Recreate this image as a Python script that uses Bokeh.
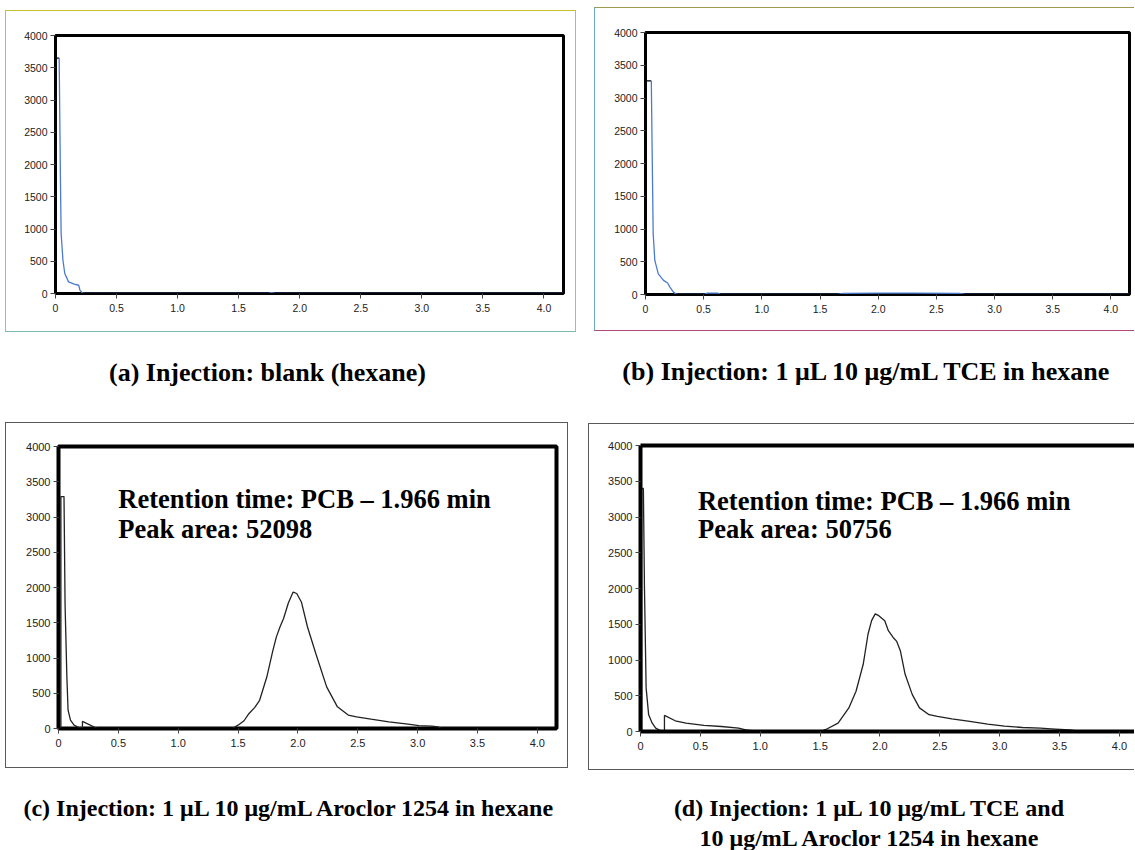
from bokeh.plotting import figure
from bokeh.models import Range1d, FixedTicker, Label, LinearAxis, Spacer
from bokeh.layouts import row, column
from bokeh.embed import file_html
from bokeh.resources import INLINE

# ---------------- data ----------------
x_ticks = [0, 0.5, 1.0, 1.5, 2.0, 2.5, 3.0, 3.5, 4.0]
x_tick_labels = ["0", "0.5", "1.0", "1.5", "2.0", "2.5", "3.0", "3.5", "4.0"]
y_ticks = [0, 500, 1000, 1500, 2000, 2500, 3000, 3500, 4000]
y_tick_labels = ["0", "500", "1000", "1500", "2000", "2500", "3000", "3500", "4000"]

# (a) blank (hexane)
a_time = [0.0, 0.0, 0.03, 0.04, 0.046, 0.061, 0.076, 0.107, 0.153, 0.19, 0.20, 0.22, 0.24,
          1.74, 1.77, 1.80, 4.16]
a_signal = [0, 3650, 3650, 1850, 930, 515, 310, 180, 145, 128, 52, 10, 0,
            0, 12, 0, 0]

# (b) TCE in hexane
b_time = [0.005, 0.005, 0.05, 0.057, 0.066, 0.08, 0.11, 0.155, 0.19, 0.21, 0.24, 0.26, 0.28,
          0.50, 0.53, 0.62, 0.65, 1.65, 1.70, 2.0, 2.3, 2.7, 2.75, 4.16]
b_signal = [0, 3260, 3260, 2200, 930, 520, 315, 215, 175, 112, 36, 10, 0,
            0, 20, 20, 0, 0, 18, 22, 20, 18, 0, 0]

# (c) Aroclor 1254 in hexane
c_time = [0.02, 0.02, 0.046, 0.055, 0.07, 0.08, 0.10, 0.13, 0.17, 0.20,
          0.20, 0.325, 1.45, 1.50, 1.55, 1.59, 1.64, 1.68, 1.74, 1.79,
          1.82, 1.85, 1.88, 1.92, 1.96, 1.99, 2.03, 2.08, 2.15, 2.24,
          2.33, 2.42, 2.49, 2.61, 2.76, 2.92, 3.01, 3.12, 3.17, 3.20, 4.16]
c_signal = [0, 3290, 3290, 1750, 730, 260, 120, 47, 14, 0,
            100, 0, 0, 47, 110, 210, 300, 400, 730, 1100,
            1300, 1440, 1560, 1780, 1935, 1915, 1790, 1440, 1060, 590,
            307, 190, 165, 132, 94, 61, 42, 33, 24, 0, 0]

# (d) TCE + Aroclor 1254 in hexane
d_time = [0.01, 0.01, 0.024, 0.033, 0.047, 0.068, 0.098, 0.127, 0.17, 0.19,
          0.20, 0.20, 0.29, 0.38, 0.53, 0.675, 0.82, 0.88, 0.95, 1.0,
          1.5, 1.56, 1.65, 1.74, 1.80, 1.86, 1.90, 1.93, 1.96, 1.99,
          2.04, 2.07, 2.11, 2.14, 2.17, 2.21, 2.27, 2.33, 2.41, 2.48,
          2.60, 2.75, 2.90, 3.04, 3.19, 3.34, 3.43, 3.58, 3.65, 3.70, 4.13]
d_signal = [0, 3400, 3400, 2020, 610, 235, 117, 47, 9, 0,
            0, 225, 150, 117, 85, 70, 47, 23, 10, 0,
            0, 38, 117, 330, 563, 940, 1360, 1550, 1645, 1620,
            1550, 1410, 1315, 1260, 1130, 800, 516, 330, 235, 211,
            178, 141, 103, 75, 56, 47, 38, 23, 10, 0, 0]

annotation_c = ["Retention time: PCB \u2013 1.966 min", "Peak area: 52098"]
annotation_d = ["Retention time: PCB \u2013 1.966 min", "Peak area: 50756"]
caption_a = "(a) Injection: blank (hexane)"
caption_b = "(b) Injection: 1 \u03bcL 10 \u03bcg/mL TCE in hexane"
caption_c = "(c) Injection: 1 \u03bcL 10 \u03bcg/mL Aroclor 1254 in hexane"
caption_d = ["(d) Injection: 1 \u03bcL 10 \u03bcg/mL TCE and",
             "10 \u03bcg/mL Aroclor 1254 in hexane"]

SERIF = "Liberation Serif"
SANS = "Liberation Sans"


def make_panel(w, h, mbl, mbr, mbt, mbb, x_end, border, label_size, frame_w, outline=True):
    p = figure(width=w, height=h, x_range=Range1d(0, x_end), y_range=Range1d(0, 4000),
               output_backend="svg", toolbar_location=None,
               min_border_left=mbl, min_border_right=mbr,
               min_border_top=mbt, min_border_bottom=mbb)
    p.grid.visible = False
    p.background_fill_color = "white"
    p.border_fill_color = "white"
    p.xaxis.ticker = FixedTicker(ticks=x_ticks)
    p.xaxis.major_label_overrides = dict(zip(x_ticks, x_tick_labels))
    p.yaxis.ticker = FixedTicker(ticks=y_ticks)
    p.yaxis.major_label_overrides = dict(zip(y_ticks, y_tick_labels))
    for ax in (p.xaxis[0], p.yaxis[0]):
        ax.major_tick_out = 5
        ax.major_tick_in = 0
        ax.minor_tick_out = 0
        ax.minor_tick_in = 0
        ax.major_tick_line_color = "#444"
        ax.axis_line_color = "black"
        ax.major_label_text_font = SANS
        ax.major_label_text_font_size = label_size
        ax.major_label_text_color = "#222"
    p.yaxis.major_label_standoff = 3
    p.xaxis.major_label_standoff = 5
    if outline:
        p.outline_line_color = "black"
        p.outline_line_width = frame_w
    else:
        p.outline_line_color = None
        p.xaxis.axis_line_width = frame_w
        p.yaxis.axis_line_width = frame_w
        top = LinearAxis(ticker=FixedTicker(ticks=[]), major_label_text_font_size="0px",
                         major_tick_out=0, major_tick_in=0, minor_tick_out=0, minor_tick_in=0,
                         axis_line_width=frame_w, axis_line_color="black")
        p.add_layout(top, "above")
    p.styles = border
    return p


TRACE_BLUE = "#4b7bd0"

# (a)
fa = make_panel(571, 322, 49, 14, 24, 40, 4.16,
                {"border-top": "1px solid #c8c030", "border-right": "1px solid #c8c030",
                 "border-left": "1px solid #8cc4a8", "border-bottom": "1px solid #7ab8b0"},
                "10.5px", 3)
fa.line(a_time[:3], a_signal[:3], line_color="black", line_width=1.3)
fa.line(a_time[2:], a_signal[2:], line_color=TRACE_BLUE, line_width=1.3)

# (b)
fb = make_panel(540, 324, 50, 6, 24, 38, 4.16,
                {"border-top": "1px solid #a09a50", "border-left": "1px solid #6aaac8",
                 "border-bottom": "1px solid #b04878"},
                "10.5px", 3)
fb.line(b_time[:3], b_signal[:3], line_color="black", line_width=1.3)
fb.line(b_time[2:], b_signal[2:], line_color=TRACE_BLUE, line_width=1.3)

# (c)
fc = make_panel(563, 346, 52, 13, 23, 41, 4.16, {"border": "1px solid #5a5a5a"}, "11px", 4)
fc.line(c_time, c_signal, line_color="#222", line_width=1.3)
for txt, yy in zip(annotation_c, [3255, 2829]):
    fc.add_layout(Label(x=0.50, y=yy, text=txt, text_font=SERIF, text_font_size="26.5px",
                        text_font_style="bold", text_color="black", text_baseline="alphabetic"))

# (d)
fd = make_panel(546, 347, 51, 0, 21, 40, 4.134,
                {"border-top": "1px solid #5a5a5a", "border-left": "1px solid #5a5a5a",
                 "border-bottom": "1px solid #5a5a5a"}, "11px", 4, outline=False)
fd.line(d_time, d_signal, line_color="#222", line_width=1.3)
for txt, yy in zip(annotation_d, [3225, 2833]):
    fd.add_layout(Label(x=0.48, y=yy, text=txt, text_font=SERIF, text_font_size="26.5px",
                        text_font_style="bold", text_color="black", text_baseline="alphabetic"))


def caption_fig(h, y_top, y_bottom, labels):
    p = figure(width=1135, height=h, x_range=Range1d(0, 1135), y_range=Range1d(y_bottom, y_top),
               output_backend="svg", toolbar_location=None, x_axis_type=None, y_axis_type=None,
               min_border=0)
    p.grid.visible = False
    p.outline_line_color = None
    p.background_fill_color = "white"
    p.border_fill_color = "white"
    for (txt, x, y, size) in labels:
        p.add_layout(Label(x=x, y=y, text=txt, text_font=SERIF, text_font_size=size,
                           text_font_style="bold", text_color="black",
                           text_align="center", text_baseline="alphabetic"))
    return p


cap1 = caption_fig(87, 334, 421, [(caption_a, 267, 372, "26px"), (caption_b, 867, 371, "26px")])
cap2 = caption_fig(78, 772, 850, [(caption_c, 290, 807, "24px"),
                                 (caption_d[0], 870, 807, "24px"),
                                 (caption_d[1], 870, 837, "24px")])

row1 = row(Spacer(width=5, height=334),
           column(Spacer(width=573, height=10), fa),
           Spacer(width=16, height=334),
           column(Spacer(width=541, height=7), fb))
row2 = row(Spacer(width=5, height=351),
           column(Spacer(width=565, height=1), fc),
           Spacer(width=18, height=351),
           column(Spacer(width=547, height=2), fd))
layout = column(row1, cap1, row2, cap2)

open("out.html", "w").write(file_html(layout, INLINE))
